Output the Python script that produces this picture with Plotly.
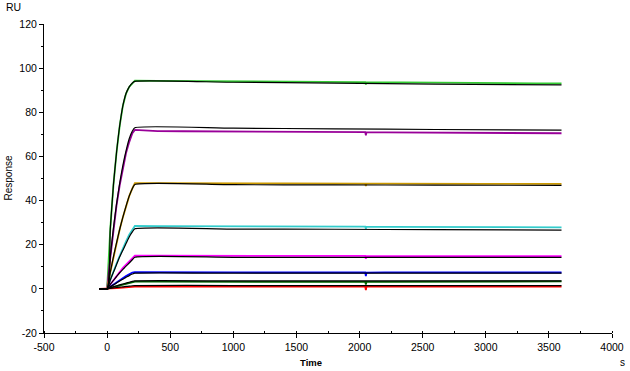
import plotly.graph_objects as go

# ---- data ----
T_ASSOC = [-60, 0, 25, 50, 75, 100, 125, 150, 175, 200, 220]
T_DISS = [220, 400, 600, 800, 1000, 1200, 1400, 1600, 1800, 2000, 2045, 2050, 2055,
          2200, 2400, 2600, 2800, 3000, 3200, 3400, 3600]
T_FIT_D = [220, 1000, 1800, 2600, 3600]

COLORS = ["#33CC33", "#990099", "#CC9900", "#33CCCC", "#FF00FF", "#0000FF", "#006600", "#FF0000"]

# measured association responses
ASSOC = [
    [0, 0, 27, 47, 62, 74, 83, 88.5, 91.5, 93.3, 94.3],
    [0, 0, 14, 27, 38, 47, 55, 61.5, 66.5, 70.5, 72.0],
    [0, 0, 7.5, 14.5, 21, 27, 32.5, 37.5, 42, 45.5, 47.9],
    [0, 0, 4, 8, 11.5, 15, 18.5, 21.5, 24.5, 27, 28.5],
    [0, 0, 2, 4, 6, 7.8, 9.5, 11, 12.5, 14, 15.0],
    [0, 0, 1, 2, 3, 4, 5, 5.8, 6.6, 7.4, 7.6],
    [0, 0, 0.4, 0.8, 1.2, 1.6, 2.0, 2.4, 2.8, 3.1, 3.3],
    [0, 0, 0.1, 0.2, 0.3, 0.4, 0.5, 0.6, 0.7, 0.9, 1.0],
]

# measured dissociation responses
DISS = [
    [94.3, 94.2, 94.1, 94.1, 94.0, 94.0, 93.9, 93.8, 93.7, 93.7, 93.7, 92.6, 93.7,
     93.6, 93.5, 93.4, 93.3, 93.3, 93.2, 93.1, 93.1],
    [72.0, 71.5, 71.4, 71.3, 71.3, 71.2, 71.2, 71.1, 71.0, 71.0, 71.0, 69.6, 71.0,
     70.9, 70.8, 70.8, 70.7, 70.7, 70.6, 70.5, 70.5],
    [47.9, 47.9, 47.8, 47.9, 47.8, 47.8, 47.8, 47.8, 47.7, 47.7, 47.7, 46.6, 47.7,
     47.7, 47.6, 47.7, 47.6, 47.6, 47.6, 47.6, 47.6],
    [28.5, 28.4, 28.4, 28.3, 28.4, 28.3, 28.3, 28.3, 28.2, 28.2, 28.2, 27.2, 28.2,
     28.1, 28.1, 28.1, 28.0, 28.0, 28.0, 27.9, 27.9],
    [15.0, 15.0, 14.9, 15.0, 14.9, 14.9, 14.9, 14.9, 14.8, 14.9, 14.9, 13.6, 14.9,
     14.8, 14.9, 14.8, 14.8, 14.8, 14.8, 14.8, 14.8],
    [7.6, 7.5, 7.5, 7.4, 7.5, 7.4, 7.4, 7.4, 7.4, 7.4, 7.4, 5.8, 7.4,
     7.5, 7.4, 7.4, 7.5, 7.4, 7.4, 7.4, 7.4],
    [3.3, 3.3, 3.2, 3.3, 3.2, 3.2, 3.2, 3.2, 3.2, 3.2, 3.2, 2.0, 3.2,
     3.2, 3.2, 3.2, 3.2, 3.2, 3.2, 3.2, 3.4],
    [1.0, 1.0, 1.0, 1.1, 1.0, 1.0, 1.0, 1.0, 1.0, 1.0, 1.0, -0.6, 1.0,
     1.0, 1.1, 1.0, 1.0, 1.0, 1.0, 1.0, 1.0],
]

# fitted curves (black)
FIT_ASSOC = [
    [0, 0, 27, 47, 62, 74, 83, 88.5, 91.5, 93.3, 94.0],
    [0, 0, 14.5, 27.5, 38.5, 48, 56, 62.5, 68, 71.5, 73.0],
    [0, 0, 7.5, 14.5, 21, 27, 32.5, 37.5, 42, 45.5, 47.3],
    [0, 0, 4, 7.5, 11, 14.5, 17.5, 20.5, 23.5, 25.8, 27.2],
    [0, 0, 2, 3.8, 5.6, 7.3, 8.8, 10.3, 11.7, 13.2, 14.3],
    [0, 0, 0.9, 1.8, 2.7, 3.6, 4.4, 5.2, 6.0, 6.7, 7.1],
    [0, 0, 0.5, 0.9, 1.4, 1.8, 2.2, 2.6, 3.0, 3.4, 3.6],
    [0, 0, 0.2, 0.4, 0.6, 0.8, 0.9, 1.1, 1.2, 1.4, 1.5],
]
FIT_DISS = [
    [94.0, 93.6, 93.2, 92.8, 92.4],
    [73.0, 72.8, 72.5, 72.2, 71.9],
    [47.3, 47.2, 47.1, 47.0, 46.9],
    [27.2, 27.1, 27.0, 26.8, 26.6],
    [14.3, 14.3, 14.3, 14.3, 14.3],
    [7.1, 7.1, 7.1, 7.1, 7.1],
    [3.6, 3.6, 3.6, 3.6, 3.6],
    [1.5, 1.5, 1.5, 1.5, 1.5],
]

X_TICKS = [-500, 0, 500, 1000, 1500, 2000, 2500, 3000, 3500, 4000]
Y_TICKS = [-20, 0, 20, 40, 60, 80, 100, 120]

FONT = "Liberation Sans, Arial, sans-serif"

fig = go.Figure()

for i, c in enumerate(COLORS):
    fig.add_trace(go.Scatter(
        x=T_ASSOC + T_DISS[1:], y=ASSOC[i] + DISS[i][1:],
        mode="lines", line=dict(color=c, width=1.8),
        hoverinfo="skip", showlegend=False))

for i in range(len(COLORS)):
    fig.add_trace(go.Scatter(
        x=T_ASSOC + T_FIT_D[1:], y=FIT_ASSOC[i] + FIT_DISS[i][1:],
        mode="lines", line=dict(color="black", width=1.2, shape="spline", smoothing=0.6),
        hoverinfo="skip", showlegend=False))

fig.update_layout(
    width=630, height=371,
    margin=dict(l=44, r=18, t=24, b=38, autoexpand=False),
    paper_bgcolor="white", plot_bgcolor="white",
    font=dict(family=FONT, size=10.5, color="black"),
    showlegend=False,
    xaxis=dict(
        range=[-500, 4000], tickvals=X_TICKS, ticktext=[str(v) for v in X_TICKS],
        showline=True, linecolor="black", linewidth=1,
        ticks="outside", ticklen=4, tickcolor="black",
        minor=dict(dtick=250, tick0=0, ticks="inside", ticklen=2, tickcolor="black"),
        showgrid=False, zeroline=False, automargin=False,
    ),
    yaxis=dict(
        range=[-20, 120], tickvals=Y_TICKS, ticktext=[str(v) for v in Y_TICKS],
        showline=True, linecolor="black", linewidth=1,
        ticks="outside", ticklen=4, tickcolor="black",
        minor=dict(dtick=10, tick0=0, ticks="outside", ticklen=2, tickcolor="black"),
        showgrid=False, zeroline=False, automargin=False,
    ),
    annotations=[
        dict(text="RU", xref="paper", yref="paper", x=-0.07, y=1.0, yshift=17,
             xanchor="left", yanchor="middle", showarrow=False,
             font=dict(family=FONT, size=10.5)),
        dict(text="Response", xref="paper", yref="paper", x=0, xshift=-36, y=0.5,
             textangle=-90, xanchor="center", yanchor="middle", showarrow=False,
             font=dict(family=FONT, size=10)),
        dict(text="<b>Time</b>", xref="paper", yref="paper", x=0.47, y=0, yshift=-29,
             xanchor="center", yanchor="middle", showarrow=False,
             font=dict(family=FONT, size=9.5)),
        dict(text="s", xref="paper", yref="paper", x=1.0, xshift=10, y=0, yshift=-29,
             xanchor="center", yanchor="middle", showarrow=False,
             font=dict(family=FONT, size=10)),
    ],
)

fig.write_html("out.html", config={"displayModeBar": False},
               post_script="document.body.style.margin='0px';")
